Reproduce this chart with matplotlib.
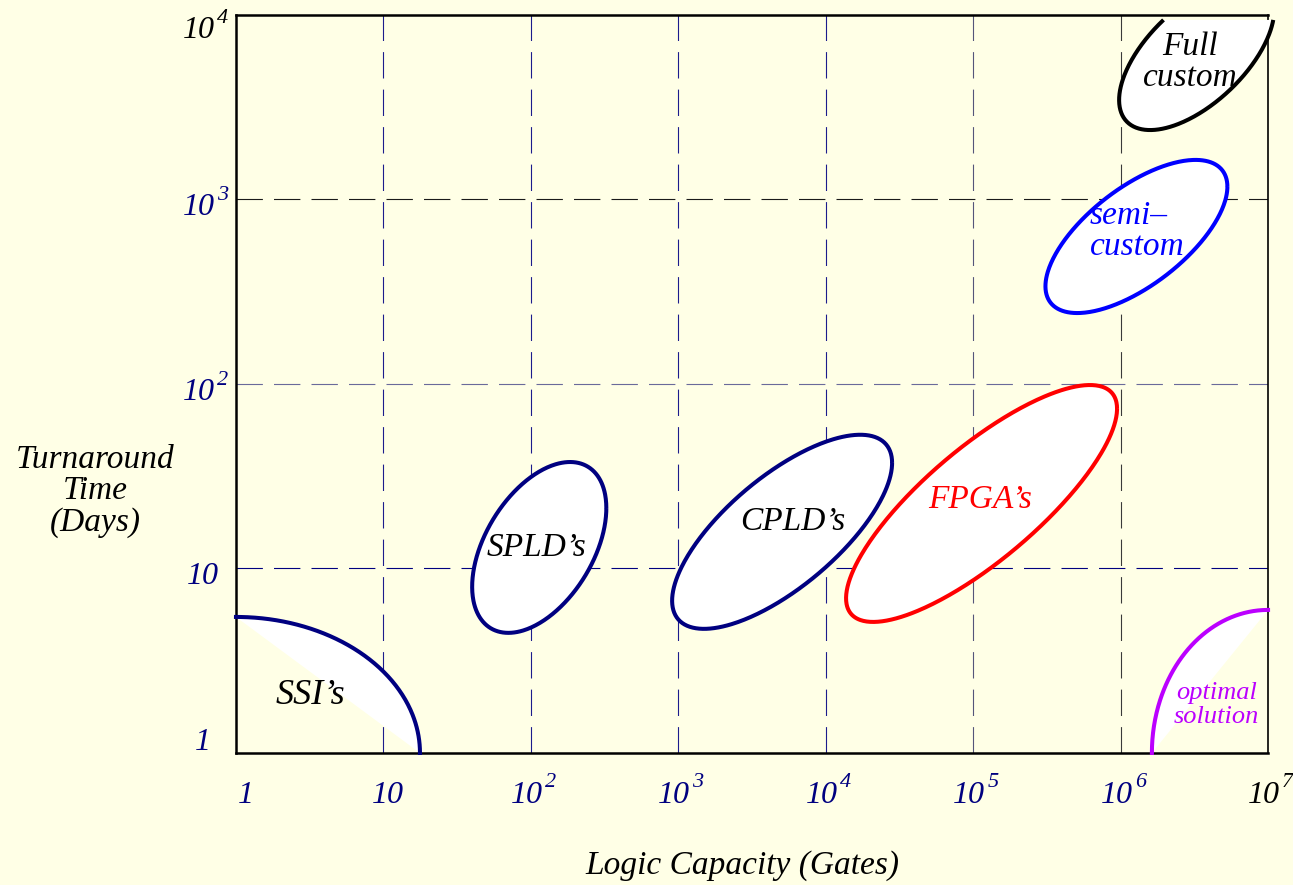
"""Turnaround time vs logic capacity for IC implementation styles."""

import matplotlib

matplotlib.use("Agg")
import matplotlib.pyplot as plt
import matplotlib.transforms as mtransforms
import numpy as np

# axis ticks (value, base text, exponent text)
x_ticks = [1, 10, 1e2, 1e3, 1e4, 1e5, 1e6, 1e7]
x_tick_base = ["1", "10", "10", "10", "10", "10", "10", "10"]
x_tick_exp = ["", "", "2", "3", "4", "5", "6", "7"]
x_tick_colors = ["#000080"] * 7 + ["#000000"]
y_ticks = [1, 10, 1e2, 1e3, 1e4]
y_tick_base = ["1", "10", "10", "10", "10"]
y_tick_exp = ["", "", "2", "3", "4"]
y_tick_colors = ["#000080"] * 4 + ["#000000"]

# dashed grid
grid_x = [10, 1e2, 1e3, 1e4, 1e5, 1e6]
grid_x_colors = ["#1c1c8c", "#1c1c8c", "#1c1c8c", "#1c1c8c", "#55557a", "#3a3a3a"]
grid_y = [10, 1e2, 1e3]
grid_y_colors = ["#000080", "#6a6a9a", "#1a1a1a"]

# tilted regions (log-space ellipses): centre, half spans in decades, tilt
regions = ["SPLD\u2019s", "CPLD\u2019s", "FPGA\u2019s", "semi\u2013\ncustom", "Full\ncustom"]
region_gates = [114, 5060, 1.14e5, 1.28e6, 3.28e6]
region_days = [13.0, 15.8, 22.5, 630, 6070]
region_span_x = [0.455, 0.746, 0.919, 0.617, 0.526]
region_span_y = [0.463, 0.526, 0.642, 0.415, 0.407]
region_tilt = [0.46, 0.71, 0.80, 0.65, 0.60]
region_colors = ["#000080", "#000080", "#ff0000", "#0000ff", "#000000"]
region_text_colors = ["#000000", "#000000", "#ff0000", "#0000ff", "#000000"]
region_label_gates = [110, 6010, 1.11e5, 6.2e5, 2.97e6]
region_label_days = [13.0, 17.9, 23.5, 675, 5560]
full_custom_cut_days = 9400

# corner regions: quarter arcs from a corner of the plot
corners = ["SSI\u2019s", "optimal\nsolution"]
corner_gates = [1, 1e7]
corner_days = [1, 1]
corner_reach_gates = [17.7, 1.63e6]
corner_reach_days = [5.46, 5.96]
corner_colors = ["#000080", "#bb00ff"]
corner_text_colors = ["#000000", "#bb00ff"]
corner_label_gates = [3.2, 4.45e6]
corner_label_days = [2.06, 1.82]
corner_label_sizes = [26, 19]

BG = "#ffffe6"
PX = 0.72  # points per pixel at dpi 100

plt.rcParams["font.family"] = "Liberation Serif"
plt.rcParams["font.style"] = "italic"
plt.rcParams["lines.scale_dashes"] = False

fig = plt.figure(figsize=(12.93, 8.85), dpi=100, facecolor=BG)
ax = fig.add_axes([0.1825, 0.1492, 0.7982, 0.8339], facecolor=BG)
ax.set_xscale("log")
ax.set_yscale("log")
ax.set_xlim(1, 1e7)
ax.set_ylim(1, 1e4)

dash = (0, (19, 8))
for gx, c in zip(grid_x, grid_x_colors):
    ax.axvline(gx, color=c, lw=0.8, ls=dash, zorder=1)
for gy, c in zip(grid_y, grid_y_colors):
    ax.axhline(gy, color=c, lw=0.8, ls=dash, zorder=1)

# tilted ellipses
for i, name in enumerate(regions):
    cx, cy = np.log10(region_gates[i]), np.log10(region_days[i])
    wx, hy, rho = region_span_x[i], region_span_y[i], region_tilt[i]
    phi = np.arctan2(rho, np.sqrt(1 - rho**2))
    if name.startswith("Full"):
        c = (np.log10(full_custom_cut_days) - cy) / hy
        t = np.linspace(np.pi - np.arcsin(c) - phi, 2 * np.pi + np.arcsin(c) - phi, 300)
    else:
        t = np.linspace(0, 2 * np.pi, 400)
    lx = cx + wx * np.cos(t)
    ly = cy + hy * np.sin(t + phi)
    xs, ys = 10**lx, 10**ly
    ax.fill(xs, ys, color="white", zorder=3, clip_on=False, lw=0)
    ax.plot(xs, ys, color=region_colors[i], lw=2.9, zorder=4, clip_on=False,
            solid_capstyle="butt")
    semi = name.startswith("semi")
    ax.text(region_label_gates[i], region_label_days[i], name, color=region_text_colors[i],
            fontsize=24, ha="left" if semi else "center", va="center", zorder=5,
            linespacing=1.03, multialignment="left" if semi else "center")

# corner quarter arcs
t = np.linspace(0, np.pi / 2, 200)
for i, name in enumerate(corners):
    x0, y0 = np.log10(corner_gates[i]), np.log10(corner_days[i])
    rx = np.log10(corner_reach_gates[i]) - x0
    ry = np.log10(corner_reach_days[i]) - y0
    lx, ly = x0 + rx * np.cos(t), y0 + ry * np.sin(t)
    xs, ys = 10**lx, 10**ly
    ax.fill(xs, ys, color="white", zorder=3, lw=0)
    ax.plot(xs, ys, color=corner_colors[i], lw=2.9, zorder=4, clip_on=False)
    ax.text(corner_label_gates[i], corner_label_days[i], name, color=corner_text_colors[i],
            fontsize=corner_label_sizes[i], ha="center", va="center", zorder=5, linespacing=1.12)

# ticks drawn as text: base "10" plus a raised exponent
ax.set_xticks([])
ax.set_yticks([])
ax.minorticks_off()


def tick_text(base_tr, v, dx, dy, s, **kw):
    tr = mtransforms.offset_copy(base_tr, fig=fig, x=dx * PX, y=dy * PX, units="points")
    ax.text(*v, s, transform=tr, **kw)


xtr = ax.get_xaxis_transform()
for v, b, e, c in zip(x_ticks, x_tick_base, x_tick_exp, x_tick_colors):
    if e:
        tick_text(xtr, (v, 0), 12, -50, b, color=c, fontsize=23, ha="right", va="baseline")
        tick_text(xtr, (v, 0), 14, -34, e, color=c, fontsize=16, ha="left", va="baseline")
    else:
        shift = 10 if b == "1" else 4
        tick_text(xtr, (v, 0), shift, -50, b, color=c, fontsize=23, ha="center", va="baseline")

ytr = ax.get_yaxis_transform()
for v, b, e, c in zip(y_ticks, y_tick_base, y_tick_exp, y_tick_colors):
    drop = -23 if v == y_ticks[-1] else (3 if v == y_ticks[0] else -16)
    if e:
        tick_text(ytr, (0, v), -21, drop, b, color=c, fontsize=23, ha="right", va="baseline")
        tick_text(ytr, (0, v), -19, drop + 15, e, color=c, fontsize=16, ha="left", va="baseline")
    else:
        tick_text(ytr, (0, v), -33, drop, b, color=c, fontsize=23, ha="center", va="baseline")

ax.set_xlabel("Logic Capacity (Gates)", fontsize=24)
ax.xaxis.set_label_coords(0.491, -0.153)
ax.xaxis.label.set_va("center")
ax.set_ylabel("Turnaround\nTime\n(Days)", fontsize=24, rotation=0, ha="center", va="center",
              linespacing=1.03)
ax.yaxis.set_label_coords(-0.1366, 0.355)

for side in ["left", "bottom", "top"]:
    ax.spines[side].set_linewidth(1.8)
ax.spines["right"].set_linewidth(1.2)

fig.savefig("out.png", dpi=100, facecolor=BG)
